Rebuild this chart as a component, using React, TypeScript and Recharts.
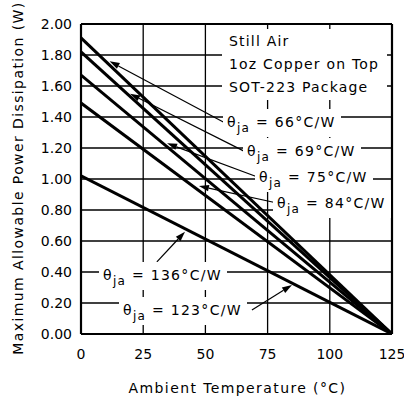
import React from 'react';
import { LineChart, Line, XAxis, YAxis, CartesianGrid, ReferenceLine } from 'recharts';

const temps = [0, 125];
const pd66 = [1.91, 0];
const pd69 = [1.82, 0];
const pd75 = [1.67, 0];
const pd84 = [1.49, 0];
const pd123 = [1.02, 0];
const seriesList = [pd66, pd69, pd75, pd84, pd123];

const xTicks = [0, 25, 50, 75, 100, 125];
const yTicks = [0, 0.2, 0.4, 0.6, 0.8, 1.0, 1.2, 1.4, 1.6, 1.8, 2.0];

const noteLines = ['Still Air', '1oz Copper on Top', 'SOT-223 Package'];
const thetaValues = [66, 69, 75, 84, 136, 123];
const thetaLeft = [227, 247, 259, 277, 103, 123];
const thetaCenterY = [122, 151, 177, 203, 275, 310];

const arrowTails = [[58.7, 1.355], [66.7, 1.17], [71.5, 1.01], [78.8, 0.845], [30.5, 0.465], [68.7, 0.155]];
const arrowTips = [[11.5, 1.76], [19.7, 1.55], [34.6, 1.23], [47.4, 0.955], [41.8, 0.66], [84.8, 0.316]];

const FONT = '"DejaVu Sans", sans-serif';

const Arrow = (props: any) => {
  const { x1, y1, x2, y2 } = props;
  const ang = Math.atan2(y2 - y1, x2 - x1);
  const L = 10;
  const W = 3.2;
  const bx = x2 - L * Math.cos(ang);
  const by = y2 - L * Math.sin(ang);
  const px = -Math.sin(ang) * W;
  const py = Math.cos(ang) * W;
  return (
    <g>
      <line x1={x1} y1={y1} x2={bx} y2={by} stroke="#000" strokeWidth={1.2} />
      <polygon points={`${x2},${y2} ${bx + px},${by + py} ${bx - px},${by - py}`} fill="#000" />
    </g>
  );
};

const ThetaLabel = ({ left, cy, value }: { left: number; cy: number; value: number }) => (
  <div
    style={{
      position: 'absolute',
      left: left - 4,
      top: cy - 13,
      height: 28,
      lineHeight: '26px',
      background: '#fff',
      padding: '0 5px 0 4px',
      fontSize: 14,
      letterSpacing: 1.3,
      whiteSpace: 'nowrap',
      color: '#000',
    }}
  >
    θ<span style={{ fontSize: 12, position: 'relative', top: 5, lineHeight: 0 }}>ja</span> = {value}°C/W
  </div>
);

export default function App() {
  return (
    <div style={{ position: 'absolute', left: 0, top: 0, width: 404, height: 400, fontFamily: FONT, background: '#fff' }}>
      <LineChart width={404} height={400} margin={{ top: 24, right: 12, bottom: 0, left: 0 }}>
        <CartesianGrid stroke="#000" strokeWidth={1.3} />
        <XAxis
          dataKey="x"
          type="number"
          domain={[0, 125]}
          ticks={xTicks}
          allowDataOverflow
          height={66}
          tickSize={0}
          tickMargin={15}
          axisLine={{ stroke: '#000', strokeWidth: 2.2 }}
          tick={{ fill: '#000', fontSize: 14 }}
          label={{
            content: (p: any) => {
              const vb = p.viewBox || { x: 81, y: 334, width: 311 };
              return (
                <text
                  x={vb.x + vb.width / 2 + 1}
                  y={vb.y + 59}
                  textAnchor="middle"
                  fontSize={14}
                  letterSpacing={1.4}
                  fill="#000"
                >
                  Ambient Temperature (°C)
                </text>
              );
            },
          }}
        />
        <YAxis
          type="number"
          domain={[0, 2]}
          ticks={yTicks}
          width={81}
          tickSize={0}
          tickMargin={9}
          allowDataOverflow
          tickFormatter={(v: number) => v.toFixed(2)}
          axisLine={{ stroke: '#000', strokeWidth: 2.2 }}
          tick={{ fill: '#000', fontSize: 14 }}
          label={{
            content: (p: any) => {
              const vb = p.viewBox || { x: 0, y: 24, height: 310 };
              const cx = vb.x + 18;
              const cy = vb.y + vb.height / 2 - 1;
              return (
                <text
                  x={cx}
                  y={cy}
                  transform={`rotate(-90, ${cx}, ${cy})`}
                  textAnchor="middle"
                  dominantBaseline="central"
                  fontSize={14}
                  letterSpacing={1.4}
                  fill="#000"
                >
                  Maximum Allowable Power Dissipation (W)
                </text>
              );
            },
          }}
        />
        <ReferenceLine y={2} stroke="#000" strokeWidth={2.2} />
        <ReferenceLine x={125} stroke="#000" strokeWidth={2.2} />
        {seriesList.map((s, i) => (
          <Line
            key={i}
            data={temps.map((t, j) => ({ x: t, y: s[j] }))}
            dataKey="y"
            stroke="#000"
            strokeWidth={3}
            dot={false}
            isAnimationActive={false}
          />
        ))}
        {arrowTails.map((t, i) => (
          <ReferenceLine
            key={'a' + i}
            segment={[
              { x: t[0], y: t[1] },
              { x: arrowTips[i][0], y: arrowTips[i][1] },
            ]}
            stroke="#000"
            shape={Arrow}
          />
        ))}
      </LineChart>
      <div
        style={{
          position: 'absolute',
          left: 222,
          top: 29,
          width: 165,
          height: 71,
          background: '#fff',
        }}
      />
      {noteLines.map((t, i) => (
        <div
          key={t}
          style={{
            position: 'absolute',
            left: 229,
            top: 41 + i * 23 - 10,
            height: 20,
            lineHeight: '20px',
            fontSize: 14,
            letterSpacing: 1.2,
            whiteSpace: 'nowrap',
            color: '#000',
          }}
        >
          {t}
        </div>
      ))}
      {thetaValues.map((v, i) => (
        <ThetaLabel key={v} left={thetaLeft[i]} cy={thetaCenterY[i]} value={v} />
      ))}
    </div>
  );
}
